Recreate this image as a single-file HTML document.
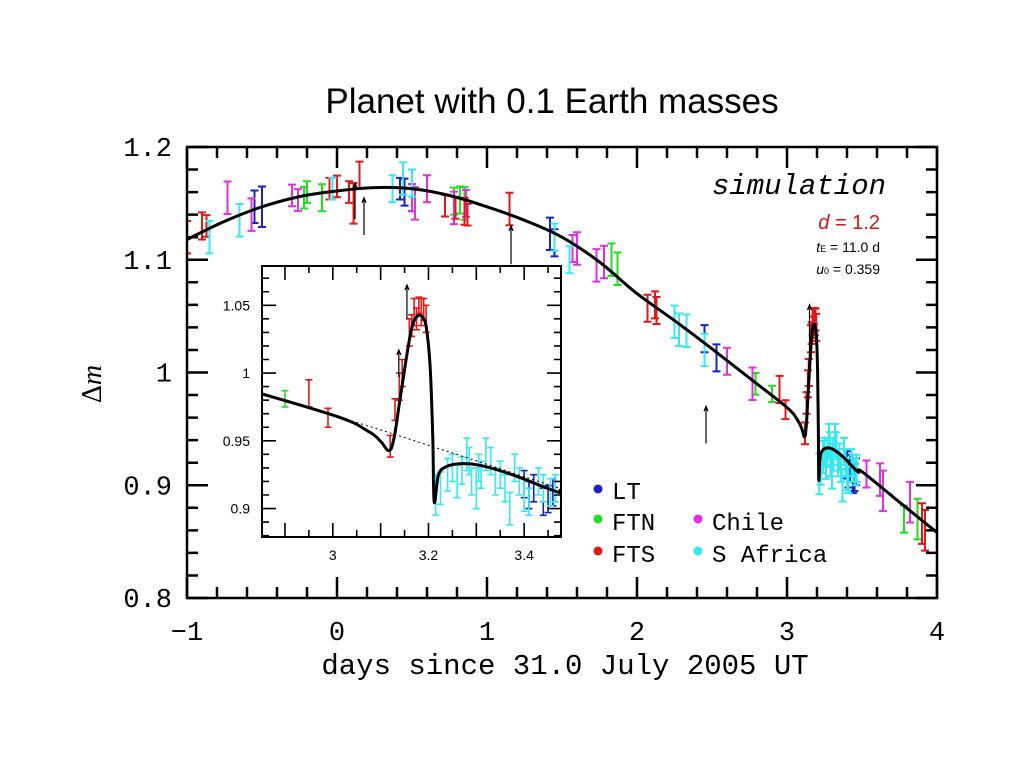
<!DOCTYPE html>
<html><head><meta charset="utf-8"><style>
html,body{margin:0;padding:0;background:#fff;width:1024px;height:768px;overflow:hidden}
svg{display:block}
</style></head><body>
<svg id="chart" width="1024" height="768" xmlns="http://www.w3.org/2000/svg">
<text x="552" y="113" text-anchor="middle" font-family="Liberation Sans, sans-serif" font-size="35">Planet with 0.1 Earth masses</text>
<text x="565" y="674" text-anchor="middle" font-family="Liberation Mono, monospace" font-size="29">days since 31.0 July 2005 UT</text>
<text transform="translate(101,384) rotate(-90)" text-anchor="middle" font-family="Liberation Serif, serif" font-size="28">Δ<tspan font-style="italic">m</tspan></text>
<text x="886" y="194" text-anchor="end" font-family="Liberation Mono, monospace" font-style="italic" font-size="29">simulation</text>
<text x="880" y="229" text-anchor="end" font-family="Liberation Sans, sans-serif" font-size="20" fill="#cc1a1a"><tspan font-style="italic">d</tspan> = 1.2</text>
<text x="880" y="252" text-anchor="end" font-family="Liberation Sans, sans-serif" font-size="14"><tspan font-style="italic">t</tspan><tspan font-size="9">E</tspan> = 11.0 d</text>
<text x="880" y="274" text-anchor="end" font-family="Liberation Sans, sans-serif" font-size="14"><tspan font-style="italic">u</tspan><tspan font-size="9">0</tspan> = 0.359</text>
<g id="legend" font-family="Liberation Mono, monospace" font-size="24">
<g><circle cx="598" cy="489" r="4.5" fill="#1a22c0"/><text x="612" y="499">LT</text></g>
<g><circle cx="598" cy="519" r="4.5" fill="#22dd22"/><text x="612" y="530">FTN</text></g>
<g><circle cx="598" cy="551" r="4.5" fill="#e01818"/><text x="612" y="562">FTS</text></g>
<g><circle cx="698" cy="519" r="4.5" fill="#e030e0"/><text x="712" y="530">Chile</text></g>
<g><circle cx="698" cy="551" r="4.5" fill="#38e8f0"/><text x="712" y="562">S Africa</text></g>
</g>
</svg>
<script>
// ---- data ----
const baseX = [-1,-0.75,-0.5,-0.25,0,0.25,0.5,0.75,1,1.25,1.5,1.75,2,2.25,2.5,2.75,3,3.25,3.5,3.75,4];
const baseY = [1.118,1.134,1.147,1.156,1.161,1.164,1.163,1.157,1.147,1.135,1.12,1.098,1.07,1.046,1.021,0.995,0.969,0.941,0.912,0.885,0.858];
const anomX = [3.0,3.074,3.10,3.117,3.128,3.142,3.163,3.177,3.19,3.197,3.204,3.209,3.212,3.221,3.238,3.265,3.306,3.375,3.472];
const anomY = [0.969,0.957,0.9496,0.9428,0.952,0.984,1.030,1.042,1.040,1.030,1.001,0.952,0.905,0.925,0.931,0.933,0.932,0.925,0.912];
const ltX = [-0.55,-0.5,0.42,0.45,0.5,1.42,1.45,2.45,2.53,3.4,3.41,3.42,3.44,3.45,3.46];
const ltY = [1.147,1.147,1.163,1.16,1.155,1.123,1.115,1.03,1.013,0.918,0.91,0.915,0.905,0.907,0.912];
const ltE = [0.012,0.015,0.008,0.01,0.01,0.012,0.01,0.01,0.01,0.01,0.01,0.01,0.01,0.01,0.01];
const ftnX = [-0.22,-0.2,-0.1,0.78,0.82,0.85,1.83,1.87,2.79,2.9,3.78,3.87];
const ftnY = [1.155,1.16,1.155,1.152,1.153,1.15,1.1,1.092,0.99,0.981,0.87,0.87];
const ftnE = [0.008,0.008,0.01,0.01,0.01,0.012,0.012,0.012,0.008,0.006,0.01,0.015];
const ftsX = [-1,-0.9,-0.87,-0.05,0,0.08,0.11,0.15,0.72,0.79,0.85,0.87,1.15,2.07,2.12,2.13,2.95,2.99,3.12,3.13,3.139,3.145,3.16,3.165,3.17,3.175,3.18,3.185,3.19,3.195,3.9,3.92];
const ftsY = [1.12,1.13,1.13,1.163,1.165,1.16,1.15,1.175,1.148,1.146,1.143,1.14,1.145,1.057,1.06,1.055,0.985,0.967,0.946,0.973,0.99,1.0,1.03,1.035,1.045,1.04,1.05,1.045,1.047,1.04,0.866,0.86];
const ftsE = [0.012,0.01,0.008,0.008,0.008,0.008,0.015,0.01,0.008,0.008,0.01,0.008,0.012,0.01,0.01,0.01,0.01,0.007,0.008,0.008,0.01,0.01,0.01,0.008,0.01,0.008,0.006,0.01,0.008,0.01,0.015,0.015];
const chileX = [-0.73,-0.57,-0.3,-0.26,0.5,0.52,0.6,0.78,0.86,1.57,1.6,1.73,1.78,2.6,2.77,3.53,3.62,3.64,3.82];
const chileY = [1.155,1.14,1.157,1.153,1.155,1.15,1.163,1.146,1.15,1.11,1.11,1.095,1.098,1.01,0.99,0.91,0.905,0.895,0.885];
const chileE = [0.012,0.012,0.008,0.008,0.01,0.012,0.01,0.012,0.01,0.01,0.012,0.012,0.012,0.01,0.012,0.01,0.012,0.015,0.015];
const safX = [-0.85,-0.65,-0.03,0.37,0.44,0.5,1.45,1.55,2.25,2.28,2.33,2.45,3.215,3.225,3.24,3.25,3.26,3.27,3.28,3.285,3.29,3.3,3.305,3.31,3.32,3.33,3.34,3.35,3.36,3.37,3.38,3.39,3.4,3.41,3.43,3.44,3.455,3.465];
const safY = [1.12,1.135,1.163,1.163,1.172,1.168,1.12,1.1,1.045,1.038,1.037,1.02,0.91,0.915,0.925,0.93,0.92,0.928,0.94,0.935,0.92,0.915,0.93,0.925,0.94,0.935,0.92,0.925,0.915,0.9,0.93,0.92,0.91,0.905,0.92,0.915,0.912,0.915];
const safE = [0.012,0.012,0.008,0.01,0.012,0.01,0.01,0.01,0.012,0.012,0.012,0.012,0.015,0.012,0.012,0.01,0.012,0.01,0.012,0.01,0.01,0.015,0.01,0.01,0.012,0.01,0.01,0.01,0.01,0.012,0.01,0.01,0.012,0.01,0.01,0.01,0.01,0.01];
const arrowMainX = [0.12,0.18,1.16,2.46,3.15];
const arrowMainTop = [1.168,1.155,1.13,0.97,1.06];
const arrowMainLen = [0.032,0.033,0.034,0.033,0.05];
const arrowInsetX = [3.155,3.138];
const arrowInsetTop = [1.065,1.017];
const arrowInsetLen = [0.025,0.02];
const xTickLabels = ['−1','0','1','2','3','4'];
const yTickLabels = ['0.8','0.9','1','1.1','1.2'];
const insetXTickLabels = ['3','3.2','3.4'];
const insetYTickLabels = ['0.9','0.95','1','1.05'];

// ---- rendering ----
const NS='http://www.w3.org/2000/svg';
const svg=document.getElementById('chart');
function el(tag,attrs,parent){const e=document.createElementNS(NS,tag);for(const k in attrs)e.setAttribute(k,attrs[k]);(parent||svg).appendChild(e);return e;}

const M={x0:187,x1:937,y0:147,y1:598,d0:-1,d1:4,v0:0.8,v1:1.2};
const I={x0:262,x1:561,y0:266,y1:537,d0:2.852,d1:3.477,v0:0.879,v1:1.079};
function sx(P,d){return P.x0+(d-P.d0)/(P.d1-P.d0)*(P.x1-P.x0);}
function sy(P,v){return P.y1-(v-P.v0)/(P.v1-P.v0)*(P.y1-P.y0);}

const colors={lt:'#1a22c0',ftn:'#22dd22',fts:'#e01818',chile:'#e030e0',saf:'#38e8f0'};
const series=[['lt',ltX,ltY,ltE],['ftn',ftnX,ftnY,ftnE],['chile',chileX,chileY,chileE],['fts',ftsX,ftsY,ftsE],['saf',safX,safY,safE]];

function modelPts(){
  const pts=[];
  for(let i=0;i<baseX.length;i++) if(baseX[i]<anomX[0]) pts.push([baseX[i],baseY[i]]);
  for(let i=0;i<anomX.length;i++) pts.push([anomX[i],anomY[i]]);
  for(let i=0;i<baseX.length;i++) if(baseX[i]>anomX[anomX.length-1]) pts.push([baseX[i],baseY[i]]);
  return pts;
}
function smoothPath(P,pts){
  const p=pts.map(q=>[sx(P,q[0]),sy(P,q[1])]);
  let d='M'+p[0][0].toFixed(1)+','+p[0][1].toFixed(1);
  for(let i=0;i<p.length-1;i++){
    const a=p[Math.max(0,i-1)],b=p[i],c=p[i+1],e=p[Math.min(p.length-1,i+2)];
    const t=0.18;
    d+=' C'+(b[0]+(c[0]-a[0])*t).toFixed(1)+','+(b[1]+(c[1]-a[1])*t).toFixed(1)+' '+(c[0]-(e[0]-b[0])*t).toFixed(1)+','+(c[1]-(e[1]-b[1])*t).toFixed(1)+' '+c[0].toFixed(1)+','+c[1].toFixed(1);
  }
  return d;
}

function drawPanel(P,name,clipId,isInset){
  const g=el('g',{});
  
  
  const defs=el('defs',{},g);
  const cp=el('clipPath',{id:clipId},defs);
  el('rect',{x:P.x0,y:P.y0,width:P.x1-P.x0,height:P.y1-P.y0},cp);
  if(isInset){ const bg=el('rect',{x:P.x0,y:P.y0,width:P.x1-P.x0,height:P.y1-P.y0,fill:'#fff'},g);
      }
  const plot=el('g',{'clip-path':'url(#'+clipId+')'},g);
  const escale=isInset?1:1.2;
  series.forEach(s=>{
    const [key,X,Y,E]=s;
    const sg=el('g',{stroke:colors[key],'stroke-width':isInset?1.6:2,fill:'none'},plot);
    
    
    for(let i=0;i<X.length;i++){
      if(X[i]<P.d0||X[i]>P.d1) continue;
      const x=sx(P,X[i]),ya=sy(P,Y[i]+E[i]*escale),yb=sy(P,Y[i]-E[i]*escale),w=isInset?3.5:4;
      const pth=el('path',{d:`M${x},${ya}V${yb}M${x-w},${ya}H${x+w}M${x-w},${yb}H${x+w}`},sg);
      
      
    }
  });
  if(isInset){
    const bl=[]; for(let i=0;i<baseX.length;i++) bl.push([baseX[i],baseY[i]]);
    const dl=el('path',{d:smoothPath(P,bl),stroke:'#000','stroke-width':1,'stroke-dasharray':'2,3',fill:'none'},plot);
    
    
  }
  const ml=el('path',{d:smoothPath(P,modelPts()),stroke:'#000','stroke-width':3,fill:'none','stroke-linejoin':'round'},plot);
  
  
  const AX=isInset?arrowInsetX:arrowMainX, AT=isInset?arrowInsetTop:arrowMainTop, AL=isInset?arrowInsetLen:arrowMainLen;
  for(let i=0;i<AX.length;i++){
    const x=sx(P,AX[i]),yt=sy(P,AT[i]),yb=sy(P,AT[i]-AL[i]);
    const ar=el('path',{d:`M${x},${yb}V${yt}M${x-2},${yt+5}L${x},${yt}L${x+2},${yt+5}`,stroke:'#000','stroke-width':1.2,fill:'none'},plot);
    
    
  }
  const fr=el('rect',{x:P.x0,y:P.y0,width:P.x1-P.x0,height:P.y1-P.y0,fill:'none',stroke:'#000','stroke-width':isInset?2:2.5},g);
  
  
  const tk=el('g',{stroke:'#000','stroke-width':isInset?1.6:2.5},g);
  
  
  const xmaj=isInset?0.1:1, xmin=isInset?0.05:0.2, ymaj=isInset?0.05:0.1, ymin=isInset?0.01:0.02;
  const Lmaj=isInset?14:21, Lmin=isInset?7:11;
  for(let k=Math.ceil(P.d0/xmin-1e-6);k*xmin<=P.d1+1e-9;k++){
    const d=k*xmin, maj=Math.abs(d/xmaj-Math.round(d/xmaj))<1e-6, L=maj?Lmaj:Lmin, x=sx(P,d);
    el('path',{d:`M${x},${P.y1}v${-L}M${x},${P.y0}v${L}`},tk);
  }
  for(let k=Math.ceil(P.v0/ymin-1e-6);k*ymin<=P.v1+1e-9;k++){
    const v=k*ymin, maj=Math.abs(v/ymaj-Math.round(v/ymaj))<1e-6, L=maj?Lmaj:Lmin, y=sy(P,v);
    el('path',{d:`M${P.x0},${y}h${L}M${P.x1},${y}h${-L}`},tk);
  }
}
drawPanel(M,'main-plot','clipMain',false);
drawPanel(I,'inset-plot','clipInset',true);

xTickLabels.forEach((t,i)=>{
  const e=el('text',{x:sx(M,M.d0+i),y:640,'text-anchor':'middle','font-family':'Liberation Mono, monospace','font-size':27});
  e.textContent=t;
  
  
});
yTickLabels.forEach((t,i)=>{
  const e=el('text',{x:172,y:sy(M,M.v0+0.1*i)+9,'text-anchor':'end','font-family':'Liberation Mono, monospace','font-size':27});
  e.textContent=t;
  
  
});
insetXTickLabels.forEach((t,i)=>{
  const e=el('text',{x:sx(I,3+0.2*i),y:560,'text-anchor':'middle','font-family':'Liberation Sans, sans-serif','font-size':14});
  e.textContent=t;
  
  
});
insetYTickLabels.forEach((t,i)=>{
  const e=el('text',{x:250,y:sy(I,0.9+0.05*i)+5,'text-anchor':'end','font-family':'Liberation Sans, sans-serif','font-size':14});
  e.textContent=t;
  
  
});
svg.appendChild(document.getElementById('legend'));
</script>
</body></html>
